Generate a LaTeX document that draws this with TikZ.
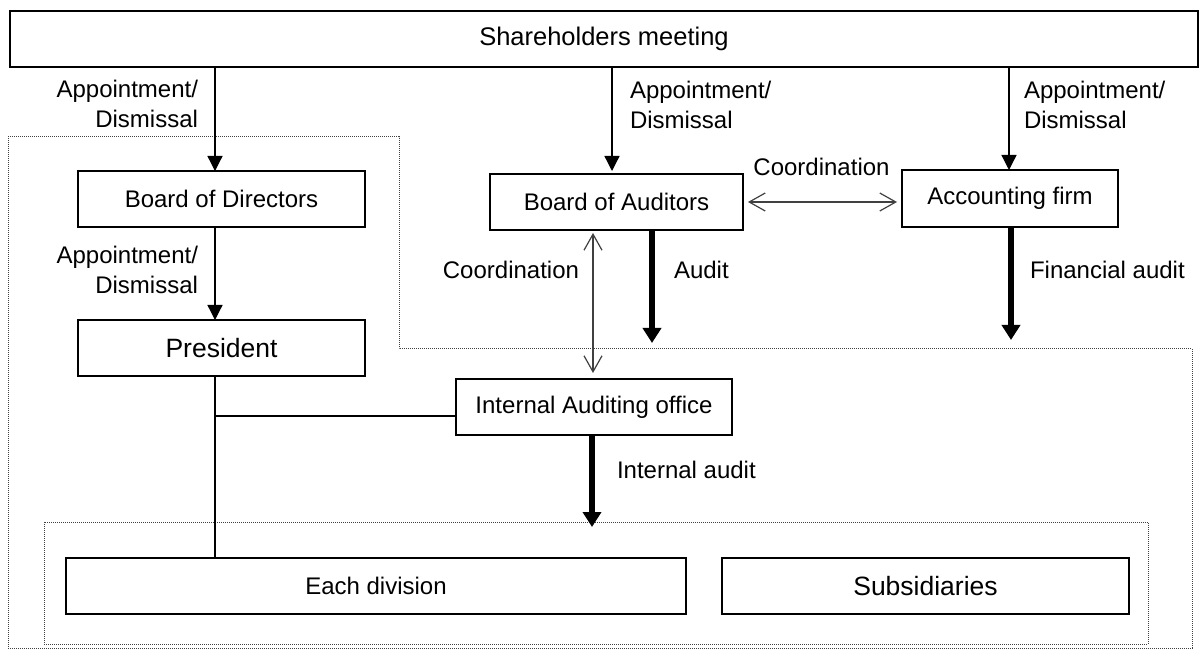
\documentclass[tikz,border=0pt]{standalone}
\usepackage{fontspec}
\setmainfont{Liberation Sans}
\usetikzlibrary{arrows.meta}
\begin{document}
\begin{tikzpicture}[x=1pt,y=-1pt,
  box/.style={draw, line width=1.3pt, rectangle, inner sep=0pt, outer sep=0pt, minimum height=56pt, font=\fontsize{24}{29}\selectfont},
  bigbox/.style={box, font=\fontsize{26.5}{32}\selectfont},
  lbl/.style={inner sep=0pt, outer sep=0pt, font=\fontsize{24}{30}\selectfont},
  appt/.style={line width=1.3pt, -{Triangle[width=15pt,length=15pt]}},
  coord/.style={line width=1.2pt, draw=black!75, {Straight Barb[width=18pt,length=16pt]}-{Straight Barb[width=18pt,length=16pt]}},
  audarrow/.style={line width=6pt, -{Triangle[width=18pt,length=15pt]}},
  region/.style={draw=black!75, line width=1pt, dash pattern=on 1pt off 1pt},
  plain/.style={line width=1.3pt}
]
\useasboundingbox (0,0) rectangle (1200,660);

% dotted regions
\draw[region] (8,137) -- (399,137) -- (399,349) -- (1192,349) -- (1192,648) -- (8,648) -- cycle;
\draw[region] (44,522) rectangle (1148,644);

% boxes
\node[box, minimum width=1188pt, font=\fontsize{25.5}{30}\selectfont] (SH) at (604,39) {Shareholders meeting};
\node[box, minimum width=287pt] (BoD) at (221.5,199) {Board of Directors};
\node[bigbox, minimum width=287pt] (Pres) at (221.5,348) {President};
\node[box, minimum width=253pt] (BoA) at (616.5,202) {Board of Auditors};
\node[box, minimum width=216pt, minimum height=57pt] (AF) at (1010,198.5) {Accounting firm};
\node[box, minimum width=276pt] (IAO) at (594,407) {Internal Auditing office};
\node[box, minimum width=620pt] (ED) at (376,586) {Each division};
\node[bigbox, minimum width=407pt] (Sub) at (925.5,586) {Subsidiaries};

% helper coordinates
\coordinate (xL) at (215,0);
\coordinate (xM) at (612,0);
\coordinate (xR) at (1009,0);
\coordinate (xC) at (593,0);
\coordinate (xA) at (652,0);
\coordinate (xF) at (1011,0);
\coordinate (xI) at (592,0);
\coordinate (yJ) at (0,416);
\coordinate (aEnd) at (652,343);
\coordinate (fEnd) at (1011,340);
\coordinate (iEnd) at (592,527);

% connectors
\draw[appt] (SH.south -| xL) -- (BoD.north -| xL);
\draw[appt] (BoD.south -| xL) -- (Pres.north -| xL);
\draw[appt, shorten >=3pt] (SH.south -| xM) -- (BoA.north -| xM);
\draw[appt] (SH.south -| xR) -- (AF.north -| xR);
\draw[coord, shorten <=5pt, shorten >=5pt] (BoA.east) -- (AF.west |- BoA.east);
\draw[coord, shorten <=3pt, shorten >=6pt] (BoA.south -| xC) -- (IAO.north -| xC);
\draw[audarrow] (BoA.south -| xA) -- (aEnd);
\draw[audarrow] (AF.south -| xF) -- (fEnd);
\draw[audarrow] (IAO.south -| xI) -- (iEnd);
\draw[plain] (Pres.south -| xL) -- (ED.north -| xL);
\draw[plain] (IAO.west |- yJ) -- (xL |- yJ);

% labels
\node[lbl, anchor=east, align=right] (L1) at (198,104) {Appointment/\\Dismissal};
\node[lbl, anchor=west, align=left] (L2) at (630,105) {Appointment/\\Dismissal};
\node[lbl, anchor=west, align=left] (L3) at (1024,105) {Appointment/\\Dismissal};
\node[lbl, anchor=east, align=right] (L4) at (198,270) {Appointment/\\Dismissal};
\node[lbl, anchor=east] (C1) at (579,270) {Coordination};
\node[lbl] (C2) at (821.5,167) {Coordination};
\node[lbl, anchor=west] (A1) at (674,270) {Audit};
\node[lbl, anchor=west] (A2) at (1030,270) {Financial audit};
\node[lbl, anchor=west] (A3) at (617,470) {Internal audit};
\end{tikzpicture}
\end{document}
